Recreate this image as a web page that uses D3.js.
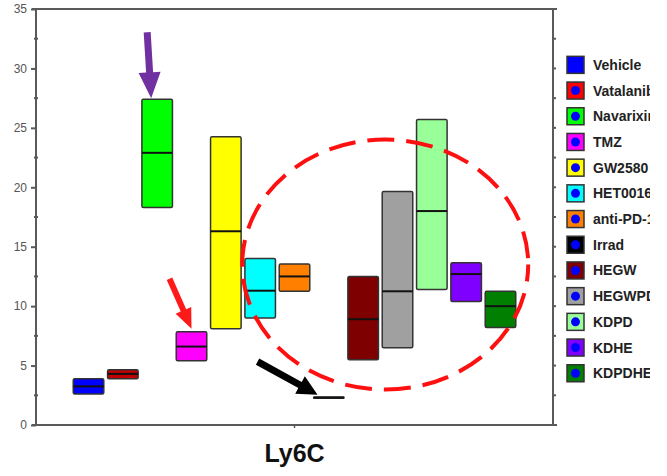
<!DOCTYPE html>
<html><head><meta charset="utf-8">
<script src="https://cdn.jsdelivr.net/npm/d3@7"></script>
<style>body{margin:0;background:#fff}svg{display:block}</style>
</head><body><svg id="c" width="667" height="476"></svg>
<script>
// ---- data ----
const category = ["Ly6C"];
const series = ["Vehicle","Vatalanib","Navarixin","TMZ","GW2580","HET0016","anti-PD-1","Irrad","HEGW","HEGWPD","KDPD","KDHE","KDPDHE"];
const q1     = [2.6, 3.9, 18.3, 5.4, 8.1, 9.0, 11.25, 2.25, 5.5, 6.5, 11.4, 10.4, 8.2];
const median = [3.25, 4.3, 22.9, 6.6, 16.3, 11.3, 12.5, 2.3, 8.9, 11.25, 18.0, 12.7, 10.0];
const q3     = [3.9, 4.65, 27.4, 7.85, 24.25, 14.0, 13.55, 2.35, 12.5, 19.65, 25.7, 13.65, 11.25];
const yTicks = [0, 5, 10, 15, 20, 25, 30, 35];
const yMinorTicks = [2.5, 7.5, 12.5, 17.5, 22.5, 27.5, 32.5];

// ---- styles ----
const boxColors = ["#0000ff","#c00000","#00ff00","#ff00ff","#ffff00","#00ffff","#ff8000","#000000","#7f0000","#a0a0a0","#99ff99","#8000ff","#007f00"];
const legendColors = ["#0000ff","#ff0000","#00ff00","#ff00ff","#ffff00","#00ffff","#ff8000","#000000","#7f0000","#a0a0a0","#99ff99","#8000ff","#007f00"];
const FONT = "'Liberation Sans', Arial, sans-serif";
const axisColor = "#5a5a5a";

const svg = d3.select("#c");
const L = 36, R = 553, T = 9, B = 425;

const y = d3.scaleLinear().domain([0, 35]).range([B, T]);
const x0 = d3.scaleBand().domain(category).range([L, R]).paddingInner(0).paddingOuter(0.0792);
const x1 = d3.scaleBand().domain(series).range([0, x0.bandwidth()]).paddingInner(0.11).paddingOuter(0.055);

// ---- frame / axes ----
const frame = svg.append("g").attr("stroke", axisColor).attr("stroke-width", 2).attr("fill", "none");
frame.append("line").attr("x1", L).attr("x2", L).attr("y1", T).attr("y2", B);
frame.append("line").attr("x1", R).attr("x2", R).attr("y1", T).attr("y2", B);
frame.append("line").attr("x1", L - 4).attr("x2", R + 4).attr("y1", T).attr("y2", T);
frame.append("line").attr("x1", L - 4).attr("x2", R + 4).attr("y1", B).attr("y2", B);

const yAxis = svg.append("g").attr("transform", `translate(${L},0)`)
  .call(d3.axisLeft(y).tickValues(yTicks).tickSize(5).tickPadding(4).tickFormat(d3.format("d")));
yAxis.select(".domain").remove();
yAxis.selectAll(".tick line").attr("stroke", axisColor).attr("stroke-width", 2);
yAxis.selectAll(".tick text").attr("fill", "#555").style("font", `12px ${FONT}`);

svg.append("g").selectAll("line").data(yMinorTicks).join("line")
  .attr("x1", L - 2).attr("x2", L + 2).attr("y1", d => y(d)).attr("y2", d => y(d))
  .attr("stroke", axisColor).attr("stroke-width", 2);
svg.append("g").selectAll("line").data(yTicks.slice(1, -1).concat(yMinorTicks)).join("line")
  .attr("x1", R - 1).attr("x2", R + 3).attr("y1", d => y(d)).attr("y2", d => y(d))
  .attr("stroke", axisColor).attr("stroke-width", 2);

const xAxis = svg.append("g").attr("transform", `translate(0,${B})`)
  .call(d3.axisBottom(x0).tickSize(3).tickPadding(16));
xAxis.select(".domain").remove();
xAxis.selectAll(".tick line").attr("stroke", axisColor).attr("stroke-width", 1.5);
xAxis.selectAll(".tick text").attr("fill", "#111").style("font", `bold 25px ${FONT}`);

// ---- boxes ----
const rows = series.map((s, i) => ({ s, i, q1: q1[i], med: median[i], q3: q3[i] }));
const g = svg.append("g").attr("transform", `translate(${x0("Ly6C")},0)`);
g.selectAll("rect.box").data(rows).join("rect").attr("class", "box")
  .attr("x", d => x1(d.s)).attr("width", x1.bandwidth())
  .attr("y", d => y(d.q3)).attr("height", d => Math.max(0.5, y(d.q1) - y(d.q3)))
  .attr("rx", 1.5)
  .attr("fill", d => boxColors[d.i]).attr("stroke", "#333").attr("stroke-width", 1.5);
g.selectAll("line.med").data(rows).join("line").attr("class", "med")
  .attr("x1", d => x1(d.s)).attr("x2", d => x1(d.s) + x1.bandwidth())
  .attr("y1", d => y(d.med)).attr("y2", d => y(d.med))
  .attr("stroke", "#111").attr("stroke-width", 2);

// ---- annotations ----
const bx = s => x0("Ly6C") + x1(s);
const idx = s => series.indexOf(s);
svg.append("ellipse")
  .attr("cx", bx("HEGWPD") + 3).attr("cy", y(13.5)).attr("rx", 143).attr("ry", 125)
  .attr("fill", "none").attr("stroke", "#ff1010").attr("stroke-width", 4)
  .attr("stroke-dasharray", "27 12").attr("stroke-dashoffset", 10);

function arrow(xs, ys, xt, yt, shaftW, headW, headL, color) {
  const dx = xt - xs, dy = yt - ys, len = Math.hypot(dx, dy);
  const ux = dx / len, uy = dy / len, px = -uy, py = ux;
  const bxp = xt - ux * headL, byp = yt - uy * headL;
  const pts = [
    [xs + px * shaftW / 2, ys + py * shaftW / 2],
    [bxp + px * shaftW / 2, byp + py * shaftW / 2],
    [bxp + px * headW / 2, byp + py * headW / 2],
    [xt, yt],
    [bxp - px * headW / 2, byp - py * headW / 2],
    [bxp - px * shaftW / 2, byp - py * shaftW / 2],
    [xs - px * shaftW / 2, ys - py * shaftW / 2]
  ];
  svg.append("polygon").attr("points", pts.map(p => p.join(",")).join(" ")).attr("fill", color);
}
{
  const s = "Navarixin", tx = bx(s) + x1.bandwidth() / 2 - 6, ty = y(q3[idx(s)]) - 1;
  arrow(tx - 4, ty - 66, tx, ty, 7, 22, 26, "#7030a0");
}
{
  const s = "TMZ", tx = bx(s) + x1.bandwidth() / 2, ty = y(q3[idx(s)]) - 3;
  arrow(tx - 22, ty - 50, tx, ty, 6, 17, 20, "#ff1a1a");
}
{
  const s = "Irrad", tx = bx(s) + 4, ty = y(median[idx(s)]) - 3;
  arrow(tx - 60, ty - 33, tx, ty, 7, 20, 20, "#000000");
}

// ---- legend ----
svg.append("clipPath").attr("id", "legclip").append("rect")
  .attr("x", 560).attr("y", 0).attr("width", 90).attr("height", 476);
const ly = d3.scaleBand().domain(series).range([52, 52 + 13 * 25.7]);
const leg = svg.append("g").attr("clip-path", "url(#legclip)");
const items = leg.selectAll("g").data(rows).join("g")
  .attr("transform", d => `translate(567,${ly(d.s) + ly.bandwidth() / 2})`);
items.append("rect").attr("x", 0).attr("y", -8.5).attr("width", 17).attr("height", 17)
  .attr("fill", d => legendColors[d.i]).attr("stroke", "#333").attr("stroke-width", 1.5);
items.filter(d => d.i > 0).append("circle").attr("cx", 8.5).attr("cy", 0).attr("r", 4.5).attr("fill", "#0000ff");
items.append("text").attr("x", 26).attr("y", 0).attr("dy", "0.36em")
  .attr("fill", "#222").style("font", `bold 14px ${FONT}`).text(d => d.s);
</script>
</body></html>
